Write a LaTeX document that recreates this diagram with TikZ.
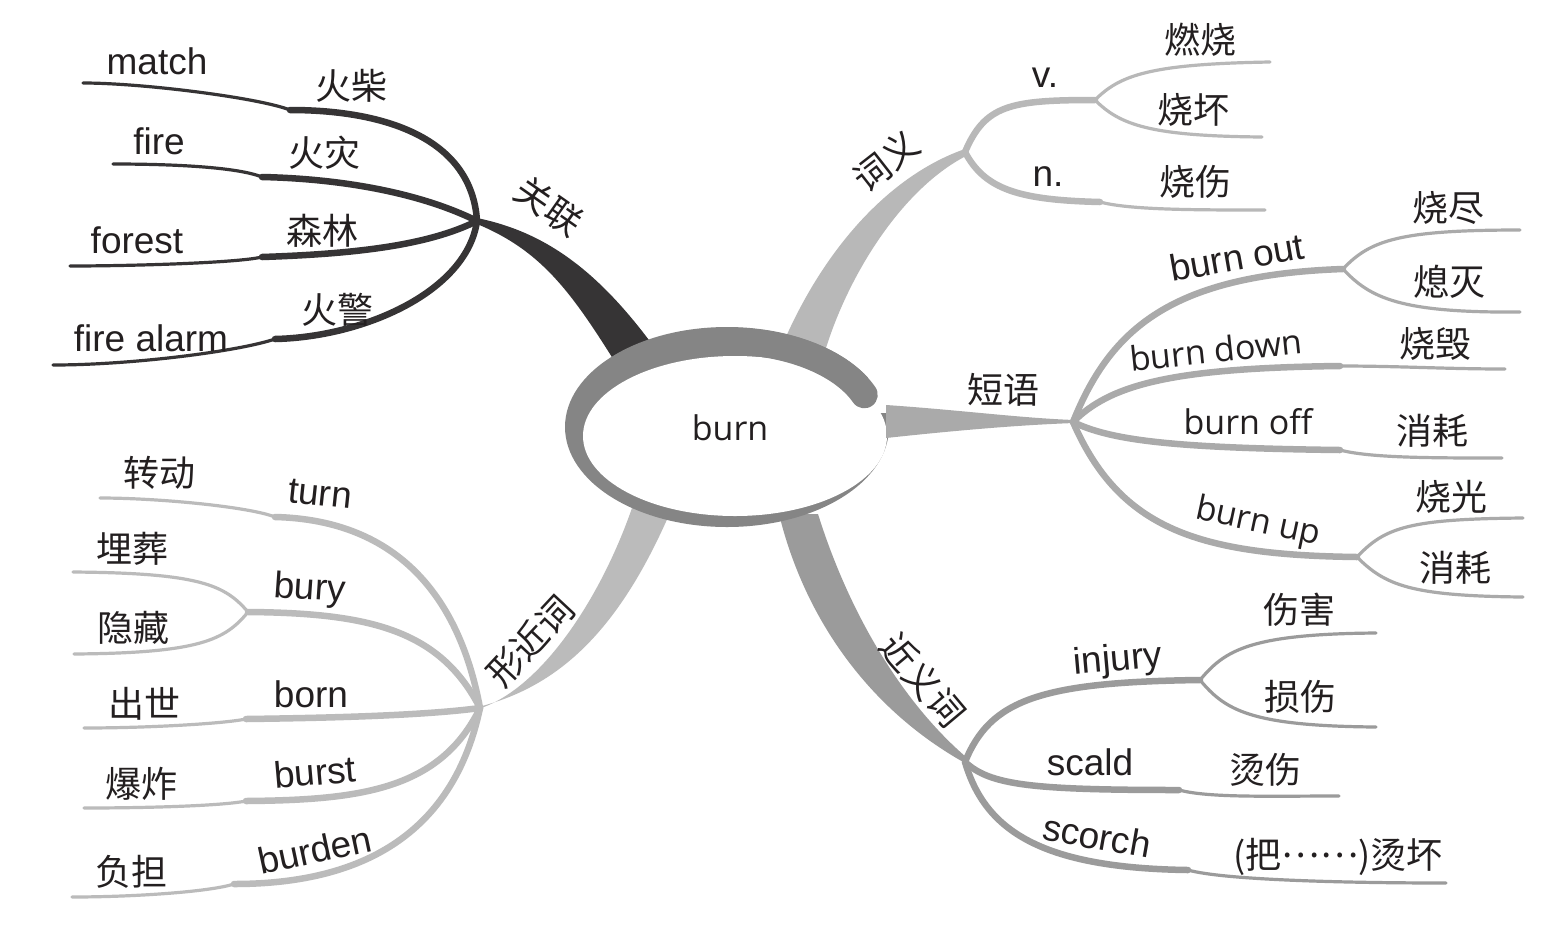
\documentclass[tikz,border=0pt]{standalone}
\usepackage{fontspec}
\setmainfont{Liberation Sans}
\newfontfamily\cjk{Noto Sans CJK SC}
\newfontfamily\segoe{Open Sans}
\definecolor{cA}{HTML}{363435}
\definecolor{cB}{HTML}{B8B8B8}
\definecolor{cC}{HTML}{AAAAAA}
\definecolor{cD}{HTML}{9B9B9B}
\definecolor{cE}{HTML}{BBBBBB}
\definecolor{cR}{HTML}{858585}
\definecolor{ink}{HTML}{231F20}
\tikzset{
  en/.style={font=\fontsize{37}{42}\selectfont, inner sep=0pt, text=ink},
  seg/.style={font=\segoe\fontsize{34}{40}\selectfont, inner sep=0pt, text=ink},
  zh/.style={font=\cjk\fontsize{36}{40}\selectfont, inner sep=0pt, text=ink},
  stem/.style={line width=6.5, line cap=round},
  twig/.style={line width=3.2, line cap=round},
}
\begin{document}
\begin{tikzpicture}[x=1pt,y=1pt]
\useasboundingbox (0,0) rectangle (1560,-930);
\fill[white] (0,0) rectangle (1560,-930);

% hubs
\coordinate (GL) at (477,-221);
\coordinate (CY) at (965,-152);
\coordinate (PH) at (1073,-422);
\coordinate (JY) at (965,-762);
\coordinate (XJ) at (480,-708);

% trunks
\fill[cA] (477,-218) .. controls (545,-232) and (600,-270) .. (662,-358) -- (615,-362) .. controls (570,-290) and (540,-250) .. (477,-224) -- cycle;
\fill[cB] (965,-149) .. controls (890,-175) and (820,-250) .. (777,-358) -- (823,-358) .. controls (845,-280) and (900,-190) .. (966,-156) -- cycle;
\fill[cD] (779,-514) .. controls (805,-620) and (870,-710) .. (965,-763) -- (966,-757) .. controls (900,-700) and (848,-610) .. (818,-514) -- cycle;
\fill[cE] (482,-706) .. controls (560,-685) and (620,-630) .. (672,-508) -- (632,-508) .. controls (600,-600) and (540,-690) .. (478,-709) -- cycle;

% central ring
\fill[cR] (727,-427) ellipse [x radius=162, y radius=100];
\fill[white] (735,-436) ellipse [x radius=152, y radius=80];
\fill[white] (868,-365) rectangle (895,-413);
\draw[cR, line width=27, line cap=round] (727,-341) arc[start angle=90, end angle=22, x radius=148, y radius=86];
\fill[cC] (886,-405) .. controls (960,-410) and (1020,-418) .. (1074,-420) -- (1074,-423) .. controls (1020,-425) and (960,-430) .. (886,-438) -- cycle;
\node[seg] (burn) at (730,-428) {burn};

% ---------- 关联 ----------
\coordinate (GLm) at (290,-110); \coordinate (GLme) at (83,-83);
\coordinate (GLf) at (262,-177); \coordinate (GLfe) at (113,-164);
\coordinate (GLo) at (262,-257); \coordinate (GLoe) at (70,-266);
\coordinate (GLa) at (275,-339); \coordinate (GLae) at (53,-365);
\begin{scope}[cA]
\draw[stem] (GL) .. controls +(-5,80) and +(100,0) .. (GLm);
\draw[twig] (GLm) .. controls +(-30,12) and +(60,0) .. (GLme);
\draw[stem] (GL) .. controls +(-50,25) and +(90,-2) .. (GLf);
\draw[twig] (GLf) .. controls +(-25,10) and +(60,0) .. (GLfe);
\draw[stem] (GL) .. controls +(-50,-25) and +(90,3) .. (GLo);
\draw[twig] (GLo) .. controls +(-25,-6) and +(60,0) .. (GLoe);
\draw[stem] (GL) .. controls +(-10,-70) and +(90,2) .. (GLa);
\draw[twig] (GLa) .. controls +(-35,-12) and +(80,0) .. (GLae);
\end{scope}
\node[zh, rotate=-35] (lGL) at (549,-206) {关联};
\node[en] (tmatch) at (157,-61) {match};
\node[zh] (zmatch) at (351,-86) {火柴};
\node[en] (tfire) at (159,-141) {fire};
\node[zh] (zfire) at (324,-153) {火灾};
\node[en] (tforest) at (137,-240) {forest};
\node[zh] (zforest) at (322,-231) {森林};
\node[en] (talarm) at (151,-338) {fire alarm};
\node[zh] (zalarm) at (337,-310) {火警};

% ---------- 词义 ----------
\coordinate (CYv) at (1095,-100); \coordinate (CYv1) at (1270,-62); \coordinate (CYv2) at (1262,-137);
\coordinate (CYn) at (1100,-202); \coordinate (CYne) at (1265,-210);
\begin{scope}[cB]
\draw[stem] (CY) .. controls +(20,47) and +(-85,0) .. (CYv);
\draw[twig] (CYv) .. controls +(25,25) and +(-120,-2) .. (CYv1);
\draw[twig] (CYv) .. controls +(25,-25) and +(-112,1) .. (CYv2);
\draw[stem] (CY) .. controls +(20,-38) and +(-80,2) .. (CYn);
\draw[twig] (CYn) .. controls +(30,-8) and +(-70,0) .. (CYne);
\end{scope}
\node[zh, rotate=38] (lCY) at (886,-161) {词义};
\node[en] (tv) at (1045,-78) {v.};
\node[en] (tn) at (1048,-177) {n.};
\node[zh] (z1) at (1200,-40) {燃烧};
\node[zh] (z2) at (1193,-110) {烧坏};
\node[zh] (z3) at (1195,-182) {烧伤};

% ---------- 短语 ----------
\coordinate (PHo) at (1343,-269); \coordinate (PHo1) at (1520,-230); \coordinate (PHo2) at (1520,-312);
\coordinate (PHd) at (1340,-366); \coordinate (PHde) at (1505,-369);
\coordinate (PHf) at (1340,-450); \coordinate (PHfe) at (1502,-458);
\coordinate (PHu) at (1357,-557); \coordinate (PHu1) at (1523,-518); \coordinate (PHu2) at (1523,-597);
\begin{scope}[cC]
\draw[stem] (PH) .. controls +(37,92) and +(-173,-6) .. (PHo);
\draw[twig] (PHo) .. controls +(27,29) and +(-120,0) .. (PHo1);
\draw[twig] (PHo) .. controls +(27,-29) and +(-120,-1) .. (PHo2);
\draw[stem] (PH) .. controls +(37,37) and +(-170,-2) .. (PHd);
\draw[twig] (PHd) .. controls +(60,0) and +(-60,0) .. (PHde);
\draw[stem] (PH) .. controls +(37,-18) and +(-170,2) .. (PHf);
\draw[twig] (PHf) .. controls +(30,-8) and +(-70,0) .. (PHfe);
\draw[stem] (PH) .. controls +(47,-108) and +(-157,2) .. (PHu);
\draw[twig] (PHu) .. controls +(28,30) and +(-113,-1) .. (PHu1);
\draw[twig] (PHu) .. controls +(28,-28) and +(-113,1) .. (PHu2);
\end{scope}
\node[zh] (lPH) at (1003,-390) {短语};
\node[en, rotate=10] (tout) at (1237,-257) {burn out};
\node[zh] (z4) at (1448,-208) {烧尽};
\node[zh] (z5) at (1449,-282) {熄灭};
\node[seg, rotate=6] (tdown) at (1216,-350) {burn down};
\node[zh] (z6) at (1435,-344) {烧毁};
\node[seg] (toff) at (1248,-422) {burn off};
\node[zh] (z7) at (1432,-431) {消耗};
\node[seg, rotate=-12] (tup) at (1258,-523) {burn up};
\node[zh] (z8) at (1451,-497) {烧光};
\node[zh] (z9) at (1455,-568) {消耗};

% ---------- 近义词 ----------
\coordinate (JYi) at (1200,-680); \coordinate (JYi1) at (1376,-633); \coordinate (JYi2) at (1376,-727);
\coordinate (JYs) at (1179,-790); \coordinate (JYse) at (1339,-796);
\coordinate (JYc) at (1188,-870); \coordinate (JYce) at (1446,-883);
\begin{scope}[cD]
\draw[stem] (JY) .. controls +(25,62) and +(-160,-2) .. (JYi);
\draw[twig] (JYi) .. controls +(25,30) and +(-126,-1) .. (JYi1);
\draw[twig] (JYi) .. controls +(25,-30) and +(-126,1) .. (JYi2);
\draw[stem] (JY) .. controls +(25,-23) and +(-149,0) .. (JYs);
\draw[twig] (JYs) .. controls +(30,-8) and +(-70,0) .. (JYse);
\draw[stem] (JY) .. controls +(20,-68) and +(-148,2) .. (JYc);
\draw[twig] (JYc) .. controls +(35,-10) and +(-100,0) .. (JYce);
\end{scope}
\node[zh, rotate=-50] (lJY) at (923,-680) {近义词};
\node[en, rotate=5] (tinj) at (1118,-661) {injury};
\node[zh] (z10) at (1299,-610) {伤害};
\node[zh] (z11) at (1300,-697) {损伤};
\node[en] (tscald) at (1090,-762) {scald};
\node[zh] (z12) at (1265,-770) {烫伤};
\node[en, rotate=-10] (tscorch) at (1097,-836) {scorch};
\node[zh] (z13) at (1338,-857) {(把\raisebox{0.32em}{……})烫坏};

% ---------- 形近词 ----------
\coordinate (XJt) at (275,-517); \coordinate (XJte) at (100,-498);
\coordinate (XJb) at (248,-612); \coordinate (XJb1) at (73,-572); \coordinate (XJb2) at (74,-654);
\coordinate (XJo) at (246,-719); \coordinate (XJoe) at (84,-728);
\coordinate (XJs) at (246,-801); \coordinate (XJse) at (84,-808);
\coordinate (XJd) at (234,-884); \coordinate (XJde) at (72,-897);
\begin{scope}[cE]
\draw[stem] (XJ) .. controls +(-20,108) and +(125,-3) .. (XJt);
\draw[twig] (XJt) .. controls +(-25,10) and +(60,0) .. (XJte);
\draw[stem] (XJ) .. controls +(-40,78) and +(122,-1) .. (XJb);
\draw[twig] (XJb) .. controls +(-23,27) and +(127,-1) .. (XJb1);
\draw[twig] (XJb) .. controls +(-23,-28) and +(126,1) .. (XJb2);
\draw[stem] (XJ) .. controls +(-60,-8) and +(74,1) .. (XJo);
\draw[twig] (XJo) .. controls +(-25,-5) and +(60,0) .. (XJoe);
\draw[stem] (XJ) .. controls +(-40,-82) and +(114,1) .. (XJs);
\draw[twig] (XJs) .. controls +(-25,-5) and +(60,0) .. (XJse);
\draw[stem] (XJ) .. controls +(-30,-142) and +(106,0) .. (XJd);
\draw[twig] (XJd) .. controls +(-25,-8) and +(60,0) .. (XJde);
\end{scope}
\node[zh, rotate=47] (lXJ) at (530,-641) {形近词};
\node[zh] (z14) at (159,-473) {转动};
\node[en, rotate=-6] (tturn) at (320,-494) {turn};
\node[zh] (z15) at (132,-549) {埋葬};
\node[zh] (z16) at (133,-628) {隐藏};
\node[en, rotate=-4] (tbury) at (310,-590) {bury};
\node[zh] (z17) at (144,-704) {出世};
\node[en] (tborn) at (311,-694) {born};
\node[zh] (z18) at (141,-784) {爆炸};
\node[en, rotate=5] (tburst) at (315,-772) {burst};
\node[zh] (z19) at (131,-872) {负担};
\node[en, rotate=12] (tburden) at (315,-850) {burden};
\end{tikzpicture}
\end{document}
